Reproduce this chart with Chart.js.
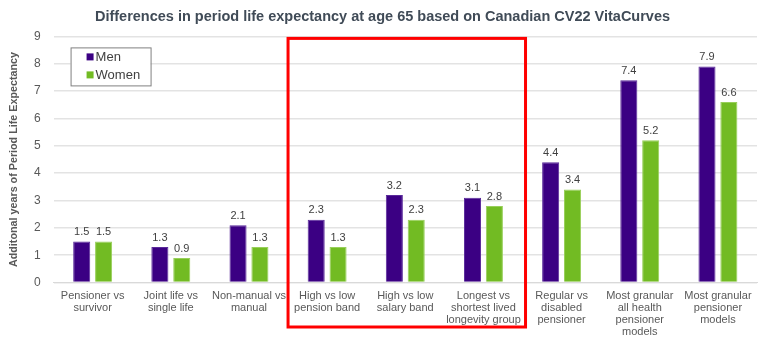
<!DOCTYPE html>
<html>
<head>
<meta charset="utf-8">
<script src="https://cdn.jsdelivr.net/npm/chart.js@4/dist/chart.umd.min.js"></script>
<style>
  html, body { margin: 0; padding: 0; background: #fff; }
  #wrap { width: 770px; height: 342px; }
</style>
</head>
<body>
<div id="wrap"><canvas id="lifeChart"></canvas></div>
<script>
const categories = [
    ['Pensioner vs', 'survivor'],
    ['Joint life vs', 'single life'],
    ['Non-manual vs', 'manual'],
    ['High vs low', 'pension band'],
    ['High vs low', 'salary band'],
    ['Longest vs', 'shortest lived', 'longevity group'],
    ['Regular vs', 'disabled', 'pensioner'],
    ['Most granular', 'all health', 'pensioner', 'models'],
    ['Most granular', 'pensioner', 'models']
];
const menValues = [1.5, 1.3, 2.1, 2.3, 3.2, 3.1, 4.4, 7.4, 7.9];
const womenValues = [1.5, 0.9, 1.3, 1.3, 2.3, 2.8, 3.4, 5.2, 6.6];
const yTicks = [0, 1, 2, 3, 4, 5, 6, 7, 8, 9];
// categories inside the red frame
const highlighted = [3, 4, 5];

const FONT = "'Liberation Sans', Arial, sans-serif";
const MEN_COLOR = '#3b0083';
const WOMEN_COLOR = '#72bb23';

// value labels on top of each bar
const barLabels = {
    id: 'barLabels',
    afterDatasetsDraw(chart) {
        const ctx = chart.ctx;
        ctx.save();
        ctx.font = '11px ' + FONT;
        ctx.fillStyle = '#404040';
        ctx.textAlign = 'center';
        ctx.textBaseline = 'bottom';
        chart.data.datasets.forEach((ds, i) => {
            chart.getDatasetMeta(i).data.forEach((bar, j) => {
                ctx.fillText(ds.data[j].toFixed(1), bar.x, bar.y - 4);
            });
        });
        ctx.restore();
    }
};

// boxed legend in the top-left corner of the plot
const boxLegend = {
    id: 'boxLegend',
    afterDraw(chart) {
        const ctx = chart.ctx;
        const area = chart.chartArea;
        const left = area.left + 17;
        const top = area.top + 11;
        ctx.save();
        ctx.fillStyle = '#fff';
        ctx.fillRect(left, top, 80, 38);
        ctx.strokeStyle = '#808080';
        ctx.lineWidth = 1;
        ctx.strokeRect(left + 0.5, top + 0.5, 80, 38);
        ctx.font = '13px ' + FONT;
        ctx.textBaseline = 'middle';
        chart.data.datasets.forEach((ds, i) => {
            const cy = top + 10 + i * 18;
            ctx.fillStyle = ds.backgroundColor;
            ctx.fillRect(left + 16, cy - 4, 7, 7);
            ctx.fillStyle = '#404040';
            ctx.fillText(ds.label, left + 25, cy);
        });
        ctx.restore();
    }
};

// red frame around the pension / salary / longevity group comparisons
const highlightFrame = {
    id: 'highlightFrame',
    afterDraw(chart) {
        const x = chart.scales.x;
        const half = (x.getPixelForValue(1) - x.getPixelForValue(0)) / 2;
        const first = highlighted[0];
        const last = highlighted[highlighted.length - 1];
        const left = x.getPixelForValue(first) - half;
        const right = x.getPixelForValue(last) + half + 3;
        const top = chart.chartArea.top + 2;
        const bottom = chart.height - 15;
        const ctx = chart.ctx;
        ctx.save();
        ctx.strokeStyle = '#ff0000';
        ctx.lineWidth = 3;
        ctx.strokeRect(left, top, right - left, bottom - top);
        ctx.restore();
    }
};

new Chart(document.getElementById('lifeChart'), {
    type: 'bar',
    data: {
        labels: categories,
        datasets: [{
            label: 'Men',
            data: menValues,
            backgroundColor: MEN_COLOR,
            borderColor: '#5a2a9a',
            borderWidth: 1
        }, {
            label: 'Women',
            data: womenValues,
            backgroundColor: WOMEN_COLOR,
            borderColor: '#98cf5a',
            borderWidth: 1
        }]
    },
    options: {
        responsive: true,
        maintainAspectRatio: false,
        animation: false,
        categoryPercentage: 0.56,
        barPercentage: 0.78,
        layout: {
            padding: { left: 8, right: 13, top: 0, bottom: -3 }
        },
        scales: {
            x: {
                grid: { display: false, drawTicks: false },
                border: { color: '#d9d9d9', width: 1 },
                ticks: {
                    color: '#595959',
                    font: { family: FONT, size: 11, lineHeight: 1.1 },
                    padding: 7,
                    maxRotation: 0,
                    autoSkip: false
                }
            },
            y: {
                min: 0,
                max: 9,
                afterBuildTicks(scale) {
                    scale.ticks = yTicks.map(v => ({ value: v }));
                },
                grid: { color: '#e3e3e3', lineWidth: 1.5, drawTicks: false },
                border: { display: false },
                ticks: {
                    color: '#595959',
                    font: { family: FONT, size: 12 },
                    padding: 13
                },
                title: {
                    display: true,
                    text: 'Additonal years of Period Life Expectancy',
                    color: '#595959',
                    font: { family: FONT, size: 10.75, weight: 'bold' },
                    padding: { top: 0, bottom: 0 }
                }
            }
        },
        plugins: {
            legend: { display: false },
            tooltip: { enabled: false },
            title: {
                display: true,
                text: 'Differences in period life expectancy at age 65 based on Canadian CV22 VitaCurves',
                color: '#404b57',
                font: { family: FONT, size: 14.5, weight: 'bold' },
                padding: { top: 8, bottom: 11 }
            }
        }
    },
    plugins: [barLabels, boxLegend, highlightFrame]
});
</script>
</body>
</html>
